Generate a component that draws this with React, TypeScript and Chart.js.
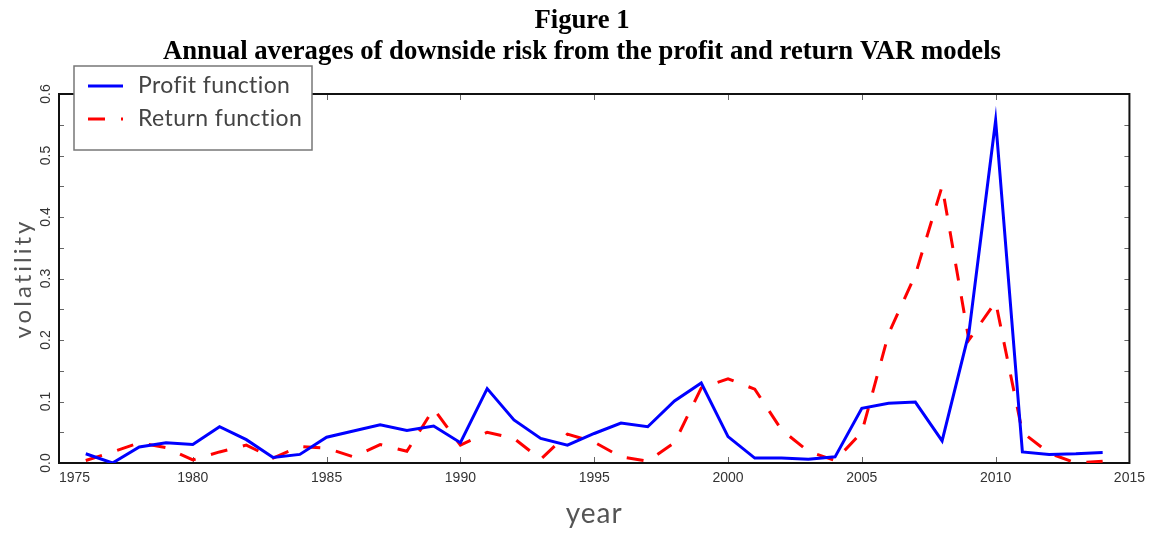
import React, { useEffect, useRef } from 'react';
import { Chart, registerables } from 'chart.js';

Chart.register(...registerables);

const years = [
  1976, 1977, 1978, 1979, 1980, 1981, 1982, 1983, 1984, 1985,
  1986, 1987, 1988, 1989, 1990, 1991, 1992, 1993, 1994, 1995,
  1996, 1997, 1998, 1999, 2000, 2001, 2002, 2003, 2004, 2005,
  2006, 2007, 2008, 2009, 2010, 2011, 2012, 2013, 2014,
];

const profitFunction = [
  0.015, 0.0, 0.026, 0.033, 0.030, 0.059, 0.038, 0.009, 0.014, 0.042,
  0.052, 0.062, 0.053, 0.060, 0.033, 0.121, 0.070, 0.040, 0.029, 0.048,
  0.065, 0.059, 0.101, 0.130, 0.043, 0.008, 0.008, 0.006, 0.010, 0.089,
  0.097, 0.099, 0.036, 0.211, 0.557, 0.018, 0.014, 0.015, 0.017,
];

const returnFunction = [
  0.004, 0.018, 0.033, 0.025, 0.005, 0.018, 0.029, 0.008, 0.027, 0.024,
  0.010, 0.030, 0.019, 0.088, 0.029, 0.050, 0.040, 0.006, 0.047, 0.034,
  0.010, 0.003, 0.033, 0.122, 0.137, 0.120, 0.054, 0.019, 0.004, 0.050,
  0.210, 0.306, 0.450, 0.200, 0.262, 0.050, 0.016, 0.000, 0.003,
];

const seriesNames = ['Profit function', 'Return function'];
const titleLines = [
  'Figure 1',
  'Annual averages of downside risk from the profit and return VAR models',
];
const xAxisTitle = 'year';
const yAxisTitle = 'volatility';

const toPoints = (vals: number[]) => years.map((yr, i) => ({ x: yr, y: vals[i] }));

const DASH = [17, 16];

const framePlugin = {
  id: 'frameTicks',
  beforeDatasetsDraw(chart: any) {
    const { ctx, chartArea: a, scales } = chart;
    const xs = scales.x;
    const ys = scales.y;
    ctx.save();
    ctx.strokeStyle = '#666';
    ctx.lineWidth = 1;
    ctx.beginPath();
    xs.ticks.forEach((t: any) => {
      const px = Math.round(xs.getPixelForValue(t.value)) + 0.5;
      ctx.moveTo(px, a.bottom);
      ctx.lineTo(px, a.bottom - 6);
      ctx.moveTo(px, a.top);
      ctx.lineTo(px, a.top + 6);
    });
    ys.ticks.forEach((t: any) => {
      const py = Math.round(ys.getPixelForValue(t.value)) + 0.5;
      ctx.moveTo(a.left, py);
      ctx.lineTo(a.left + 5, py);
      ctx.moveTo(a.right, py);
      ctx.lineTo(a.right - 5, py);
    });
    ctx.stroke();
    ctx.strokeStyle = '#111';
    ctx.lineWidth = 2;
    ctx.strokeRect(a.left, a.top, a.right - a.left, a.bottom - a.top);
    ctx.restore();
  },
};

const textPlugin = {
  id: 'textsLegend',
  afterDraw(chart: any) {
    const { ctx, chartArea: a } = chart;
    ctx.save();
    // Title
    ctx.fillStyle = '#000';
    ctx.font = 'bold 26.7px "Liberation Serif"';
    ctx.textAlign = 'center';
    ctx.textBaseline = 'alphabetic';
    ctx.fillText(titleLines[0], 582, 28);
    ctx.fillText(titleLines[1], 582, 59);

    // Axis titles
    ctx.fillStyle = '#555';
    ctx.font = '28px Lato';
    (ctx as any).letterSpacing = '1px';
    ctx.fillText(xAxisTitle, (a.left + a.right) / 2, 523);
    ctx.save();
    ctx.translate(31, (a.top + a.bottom) / 2);
    ctx.rotate(-Math.PI / 2);
    ctx.font = '24px Lato';
    (ctx as any).letterSpacing = '3px';
    ctx.fillText(yAxisTitle, 0, 0);
    ctx.restore();

    // Legend box
    const bx = 74, by = 66, bw = 238, bh = 84;
    ctx.fillStyle = '#fff';
    ctx.fillRect(bx, by, bw, bh);
    ctx.strokeStyle = '#777';
    ctx.lineWidth = 1.5;
    ctx.strokeRect(bx, by, bw, bh);

    const rows = [86, 119];
    chart.data.datasets.forEach((ds: any, i: number) => {
      const y = rows[i];
      ctx.save();
      ctx.strokeStyle = ds.borderColor;
      ctx.lineWidth = ds.borderWidth;
      ctx.setLineDash(ds.borderDash || []);
      ctx.beginPath();
      ctx.moveTo(88, y);
      ctx.lineTo(123, y);
      ctx.stroke();
      ctx.restore();
      ctx.fillStyle = '#444';
      ctx.font = '23px Lato';
      (ctx as any).letterSpacing = '0.4px';
      ctx.textAlign = 'left';
      ctx.textBaseline = 'middle';
      ctx.fillText(ds.label, 138, y);
    });
    ctx.restore();
  },
};

export default function App() {
  const canvasRef = useRef<HTMLCanvasElement | null>(null);

  useEffect(() => {
    if (!canvasRef.current) return;
    const chart = new Chart(canvasRef.current, {
      type: 'line',
      data: {
        datasets: [
          {
            label: seriesNames[0],
            data: toPoints(profitFunction),
            borderColor: '#0000ff',
            borderWidth: 3,
            pointRadius: 0,
            tension: 0,
            fill: false,
          },
          {
            label: seriesNames[1],
            data: toPoints(returnFunction),
            borderColor: '#ff0000',
            borderWidth: 3,
            borderDash: DASH,
            pointRadius: 0,
            tension: 0,
            fill: false,
          },
        ],
      },
      options: {
        animation: false,
        responsive: true,
        maintainAspectRatio: false,
        layout: { padding: { top: 94, right: 21, left: 0, bottom: 0 } },
        plugins: {
          legend: { display: false },
          title: { display: false },
          tooltip: { enabled: false },
        },
        scales: {
          x: {
            type: 'linear',
            min: 1975,
            max: 2015,
            grid: { display: false, drawTicks: false },
            border: { display: false },
            ticks: {
              stepSize: 5,
              padding: 7,
              color: '#333',
              font: { family: 'Liberation Sans', size: 14 },
              callback: (v: any, i: number) => (i === 0 ? '        ' + String(v) : String(v)),
            },
            afterFit: (s: any) => {
              s.height = 70;
            },
          },
          y: {
            type: 'linear',
            min: 0,
            max: 0.6,
            grid: { display: false, drawTicks: false },
            border: { display: false },
            ticks: {
              stepSize: 0.05,
              padding: 3,
              minRotation: 90,
              maxRotation: 90,
              crossAlign: 'center',
              autoSkip: false,
              color: '#333',
              font: { family: 'Liberation Sans', size: 14 },
              callback: (v: any) => {
                const k = Math.round(Number(v) * 100);
                return k % 10 === 0 ? (k / 100).toFixed(1) : '';
              },
            },
            afterFit: (s: any) => {
              s.width = 59;
            },
          },
        },
      },
      plugins: [framePlugin, textPlugin],
    });
    return () => chart.destroy();
  }, []);

  return (
    <div style={{ position: 'fixed', left: 0, top: 0, width: 1152, height: 533, background: '#fff' }}>
      <canvas ref={canvasRef} />
    </div>
  );
}
